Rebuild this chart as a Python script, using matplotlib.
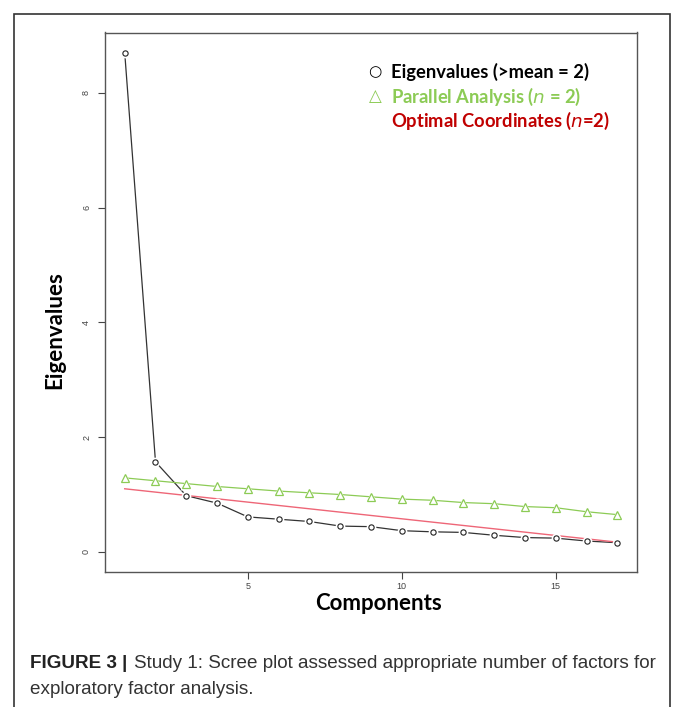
import matplotlib
matplotlib.use("Agg")
import matplotlib.pyplot as plt
from matplotlib.patches import Rectangle

# scree data
components = list(range(1, 18))
eigenvalues = [8.70, 1.57, 0.98, 0.85, 0.61, 0.57, 0.53, 0.45, 0.44,
               0.37, 0.35, 0.34, 0.29, 0.25, 0.24, 0.19, 0.16]
parallel = [1.29, 1.24, 1.19, 1.14, 1.10, 1.06, 1.03, 1.00, 0.96,
            0.92, 0.90, 0.86, 0.84, 0.79, 0.77, 0.70, 0.65]
oc_x = [1, 17]
oc_y = [1.10, 0.17]

xticks = [5, 10, 15]
yticks = [0, 2, 4, 6, 8]

green = "#8CCB55"
darkred = "#C00000"
pink = "#EE6677"

fig = plt.figure(figsize=(6.73, 7.07), dpi=100)

# outer figure border (open at the bottom like the crop)
border = Rectangle((14 / 673, -0.05), (670 - 14) / 673, (707 - 14) / 707 + 0.05,
                   transform=fig.transFigure, fill=False, edgecolor="#333333", lw=1.2)
fig.patches.append(border)

ax = fig.add_axes([105 / 673, 1 - 572 / 707, (637 - 105) / 673, (572 - 32.5) / 707])

# lines first, then white "holes" so it looks like R's type="b"
ax.plot(components, eigenvalues, color="#333333", lw=0.9, zorder=2)
ax.plot(components, parallel, color=green, lw=0.9, zorder=2)
ax.plot(oc_x, oc_y, color=pink, lw=1.0, zorder=2)
ax.plot(components, eigenvalues, ls="none", marker="o", ms=7, mfc="white", mec="none", zorder=3)
ax.plot(components, parallel, ls="none", marker="^", ms=8, mfc="white", mec="none", zorder=3)
ax.plot(components, eigenvalues, ls="none", marker="o", ms=3.8, mfc="white",
        mec="#222222", mew=0.8, zorder=4)
ax.plot(components, parallel, ls="none", marker="^", ms=5.3, mfc="none",
        mec=green, mew=0.9, zorder=4)

ax.set_xlim(0.36, 17.64)
ax.set_ylim(-0.35, 9.05)
ax.set_xticks(xticks)
ax.set_yticks(yticks)
ax.set_xticklabels([str(v) for v in xticks], fontsize=6.5, family="Liberation Sans",
                   color="#444444")
ax.set_yticklabels([str(v) for v in yticks], fontsize=6.5, family="Liberation Sans",
                   rotation=90, va="center", color="#444444")
ax.tick_params(axis="x", length=5, width=0.8, color="#444444", pad=2)
ax.tick_params(axis="y", length=5, width=0.8, color="#444444", pad=5)
for s in ax.spines.values():
    s.set_color("#555555")
    s.set_linewidth(1.0)

# axis titles placed like the original
fig.text(378 / 673, 1 - 604 / 707, "Components", fontsize=16, fontweight="bold",
         family="Lato", ha="center", va="center")
fig.text(55 / 673, 1 - 330 / 707, "Eigenvalues", fontsize=16, fontweight="bold",
         family="Lato", ha="center", va="center", rotation=90)

# legend-like text block
fs = 13.2
fig.text(391 / 673, 1 - 72 / 707, "Eigenvalues (>mean = 2)", fontsize=fs,
         fontweight="bold", family="Lato", color="black", va="center")
fig.text(375 / 673, 1 - 72 / 707, "\u25cb", fontsize=11, fontweight="bold",
         family="DejaVu Sans", color="black", va="center", ha="center")
fig.text(391 / 673, 1 - 97 / 707, "Parallel Analysis ($\\mathbf{\\mathit{n}}$ = 2)",
         fontsize=fs, fontweight="bold", family="Lato", color=green, va="center")
fig.text(375 / 673, 1 - 96 / 707, "\u25b3", fontsize=12, fontweight="bold",
         family="DejaVu Sans", color=green, va="center", ha="center")
fig.text(391 / 673, 1 - 121 / 707, "Optimal Coordinates ($\\mathbf{\\mathit{n}}$=2)",
         fontsize=fs, fontweight="bold", family="Lato", color=darkred, va="center")

# caption
fig.text(30 / 673, 1 - 664 / 707, "FIGURE 3 |", fontsize=13.6, fontweight="bold",
         family="Liberation Sans", color="#222222", va="center")
fig.text(134 / 673, 1 - 664 / 707, "Study 1: Scree plot assessed appropriate number of factors for",
         fontsize=13.6, family="Liberation Sans", color="#333333", va="center")
fig.text(30 / 673, 1 - 690 / 707, "exploratory factor analysis.",
         fontsize=13.6, family="Liberation Sans", color="#333333", va="center")

fig.savefig("out.png", dpi=100)
